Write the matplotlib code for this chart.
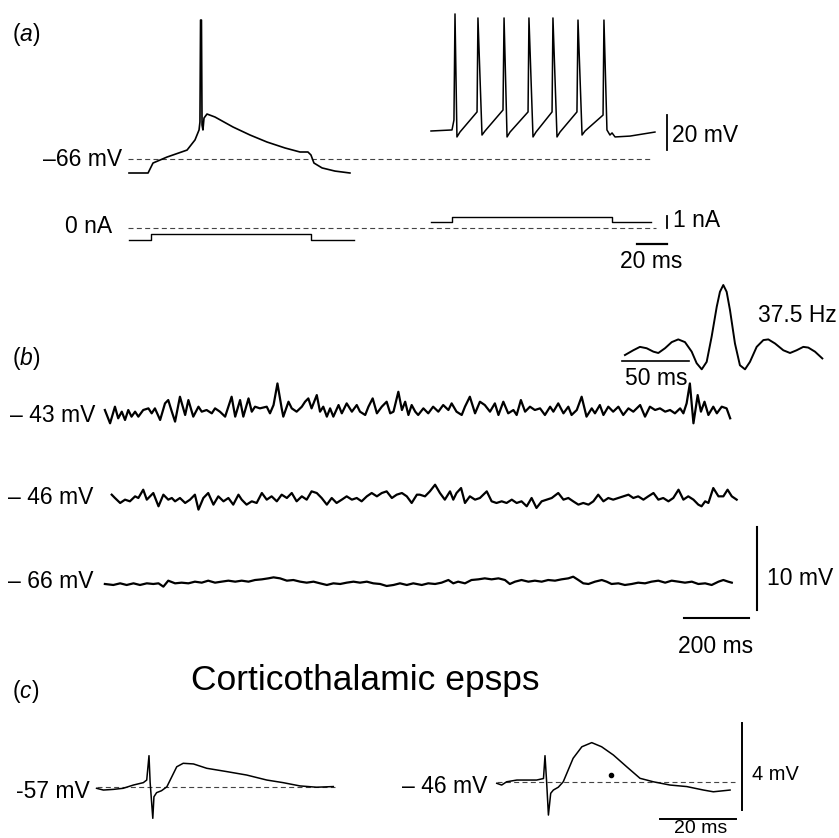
import numpy as np
import matplotlib
matplotlib.use('Agg')
import matplotlib.pyplot as plt

plt.rcParams['font.family'] = ['Liberation Sans', 'DejaVu Sans']
plt.rcParams['mathtext.fontset'] = 'custom'
plt.rcParams['mathtext.rm'] = 'Liberation Sans'
plt.rcParams['mathtext.it'] = 'Liberation Sans:italic'
plt.rcParams['lines.solid_joinstyle'] = 'round'

W, H = 839, 838

# (a) single spike, left sweep (ms, mV)
a_left_t = [0, 12.7, 16, 25.3, 38.7, 44, 46.7, 47.3, 47.7, 48.3, 48.7, 49.3, 50, 52, 57.3,
            69.3, 80.7, 92, 104, 114, 119.3, 121.3, 123.3, 128.7, 137.3, 147.3]
a_left_v = [-74, -74, -68.3, -64.9, -60.9, -55.1, -49.4, -44.9, 13.4, 13.4, -46.6, -49.4, -42.6, -40.3, -42,
            -47.7, -52.3, -56.3, -59.7, -62, -62, -63.7, -68.3, -71.1, -72.9, -74]

# (a) tonic firing, right sweep (ms, mV)
a_right_t = [0, 14, 15.3, 16, 17.3, 19.3, 30.7, 31.3, 34, 36, 48, 48.7, 50.7, 52.7, 64.7, 65.3, 68, 70,
             80.7, 81.3, 84, 86, 97.3, 98, 100.7, 102.7, 114.7, 115.3, 117.3, 119.3, 120.7, 122.7, 132.7, 149.3]
a_right_v = [-50, -49.4, -43.7, 16.9, -53.4, -50.6, -39.1, 14.6, -52.3, -50, -38, 14.6, -53.4, -50.6, -39.1, 14.6, -53.4, -50.6,
             -39.1, 14.6, -53.4, -50.6, -39.1, 13.4, -52.3, -50, -40.9, 13.4, -49.4, -52.3, -51.1, -53.4, -52.9, -50.6]

# (a) injected current (ms, nA)
a_left_it = [0, 14.7, 14.7, 121.3, 121.3, 150]
a_left_i = [-1.0, -1.0, -0.5, -0.5, -1.0, -1.0]
a_right_it = [0, 14, 14, 120.7, 120.7, 146.7]
a_right_i = [0.5, 0.5, 0.9, 0.9, 0.5, 0.5]

# (b) spontaneous activity at three membrane potentials (ms, mV from holding level)
b_levels = [-43, -46, -66]
b1_t = [15, 31, 46, 56, 67, 77, 87, 97, 108, 118, 133, 149, 159, 169, 185, 200, 210, 221, 231, 246,
        262, 272, 287, 303, 313, 328, 344, 354, 369, 385, 405, 416, 431, 441, 457, 467, 477, 492, 513, 523,
        534, 546, 559, 564, 580, 590, 605, 621, 631, 641, 651, 667, 677, 687, 698, 708, 718, 734, 744, 759,
        775, 790, 800, 816, 826, 839, 852, 867, 882, 893, 903, 918, 929, 939, 949, 959, 970,
        979, 995, 1010, 1025, 1041, 1056, 1072, 1082, 1097, 1113, 1123, 1138, 1154, 1169, 1184, 1200, 1215,
        1226, 1241, 1256, 1272, 1282, 1295, 1308, 1323, 1338, 1354, 1369, 1385, 1395, 1410, 1426, 1441,
        1451, 1467, 1482, 1497, 1513, 1523, 1538, 1549, 1564, 1579, 1595, 1610, 1626, 1641, 1662, 1677,
        1692, 1708, 1723, 1739, 1754, 1769, 1785, 1795, 1805, 1815, 1826, 1839, 1849, 1860, 1872, 1887,
        1898, 1913, 1928, 1939]
b1_dv = [0.36, -1.24, 0.76, -0.64, 0.16, -0.84, 0.36, -0.44, 0.16, -0.44, 0.36, 0.56, -0.04, 0.56, -0.84, 1.16, 1.56, 0.16, -1.04, 1.96,
         -0.24, 1.56, -0.44, 0.76, 0.16, 0.36, -0.04, 0.56, 0.16, -0.44, 1.96, -0.44, 1.56, -0.44, 1.76, 0.16, 0.76, 0.56, 0.76, -0.04,
         0.96, 3.56, 0.56, -0.44, 1.36, 0.56, 0.16, 0.76, 1.36, 1.76, 0.56, 2.16, 0.16, 0.76, -0.44, 0.56, -0.44, 0.96, -0.04, 1.16,
         0.16, 0.96, 0.16, -0.24, 0.76, 1.76, -0.04, 0.76, 1.36, -0.04, 0.16, 2.56, 0.36, 1.36, -0.24, 0.96, 0.16,
         -0.24, 0.56, -0.04, 0.76, 0.16, 0.96, 0.36, 1.16, 0.16, -0.24, 0.76, 1.96, -0.04, 1.36, 0.96, 0.16, 1.16,
         -0.24, 1.36, -0.04, 0.36, -0.24, 1.56, 0.16, 0.76, 0.36, 0.56, -0.24, 0.76, 0.16, 1.16, -0.04, 0.76,
         -0.24, 0.36, 1.96, -0.44, 0.56, -0.04, 0.96, -0.24, 0.76, 0.16, 0.76, -0.24, 0.56, 0.16, 0.96, -0.44,
         0.76, 0.36, 0.56, 0.16, 0.36, -0.04, 0.56, -0.04, 1.16, 3.56, -1.24, 2.16, 0.16, 1.36, -0.24, 0.76,
         -0.04, 0.76, 0.56, -0.64]

b2_t = [36, 46, 62, 77, 92, 108, 118, 133, 144, 154, 164, 180, 195, 210, 221, 231, 246, 262, 277, 292,
        303, 318, 333, 349, 364, 380, 395, 410, 426, 436, 451, 467, 482, 498, 513, 528, 544, 559, 575, 590,
        605, 621, 636, 651, 667, 682, 698, 713, 728, 744, 759, 775, 790, 805, 821, 836, 852, 867, 882, 898,
        913, 929, 944, 959, 975,
        984, 1000, 1015, 1031, 1046, 1061, 1077, 1087, 1097, 1111, 1123, 1138, 1154, 1169, 1190, 1205, 1220,
        1236, 1251, 1267, 1282, 1297, 1313, 1328, 1343, 1359, 1374, 1390, 1410, 1426, 1441, 1456, 1472, 1487,
        1503, 1518, 1533, 1549, 1564, 1579, 1595, 1610, 1626, 1641, 1656, 1672, 1687, 1703, 1718, 1733, 1749,
        1764, 1780, 1795, 1810, 1826, 1841, 1851, 1862, 1872, 1887, 1903, 1918, 1931, 1944, 1959]
b2_dv = [0.28, -0.12, -0.72, -0.32, -0.52, 0.08, -0.12, 0.88, -0.32, 0.08, 0.48, -1.12, 0.28, -0.32, -0.12, -0.52, -0.12, -0.72, -0.32, 0.28,
         -1.52, -0.12, 0.48, -0.92, 0.08, -0.52, -0.12, -0.92, 0.28, -0.32, -0.92, -0.52, -0.72, 0.48, -0.32, 0.08, -0.52, 0.28, -0.12, 0.48,
         -0.52, 0.08, -0.32, 0.68, 0.48, -0.12, -0.92, -0.12, -0.72, -0.32, 0.08, -0.32, -0.12, -0.52, 0.08, 0.48, 0.08, 0.48, 0.68, -0.12,
         0.28, 0.48, 0.08, -0.72, 0.28,
         0.28, 0.08, 0.68, 1.48, 0.48, -0.32, 0.68, -0.32, 0.48, 1.08, -0.72, 0.08, -0.32, -0.12, 0.68, -0.52, -0.72,
         -0.52, -0.72, -0.32, -0.72, -0.52, -1.12, -0.12, -1.32, -0.52, -0.32, -0.12, 0.48, -0.32, -0.12, -0.52, -0.92, -0.72,
         -0.92, -0.52, 0.28, -0.52, -0.12, -0.32, -0.12, 0.08, 0.28, -0.12, 0.08, -0.32, 0.08, 0.48, -0.32, -0.12, -0.52,
         -0.12, 0.88, -0.32, 0.08, -0.32, -0.92, -1.12, -0.52, -0.72, 1.08, 0.08, 0.08, 0.88, 0.08, -0.32]

b3_t = [15, 41, 62, 82, 103, 123, 144, 164, 180, 195, 210, 231, 251, 272, 292, 313, 333, 354, 374, 395,
        416, 436, 457, 477, 498, 518, 534, 554, 575, 595, 616, 636, 657, 677, 698, 718, 739, 759, 780, 800,
        821, 841, 862, 882, 903, 923, 944, 964,
        990, 1010, 1031, 1051, 1072, 1087, 1102, 1123, 1143, 1164, 1184, 1205, 1226, 1246, 1261, 1277, 1297,
        1318, 1338, 1359, 1379, 1400, 1420, 1441, 1456, 1472, 1487, 1503, 1523, 1544, 1559, 1574, 1595, 1615,
        1636, 1656, 1677, 1697, 1718, 1739, 1759, 1780, 1800, 1821, 1841, 1862, 1882, 1903, 1918, 1933, 1944]
b3_dv = [-0.24, -0.36, -0.16, -0.36, -0.16, -0.36, -0.16, -0.24, -0.16, -0.56, 0.16, -0.16, -0.08, -0.16, 0.04, -0.08, 0.16, -0.08, 0.04, 0.16,
         0.04, 0.16, 0.04, 0.24, 0.32, 0.44, 0.56, 0.44, 0.16, 0.24, 0.04, -0.08, 0.04, -0.16, -0.36, -0.16, -0.24, -0.08, 0.04, -0.08,
         0.04, -0.16, -0.24, -0.48, -0.36, -0.16, -0.36, -0.16,
         -0.36, -0.16, -0.24, -0.08, 0.24, -0.16, 0.04, -0.16, 0.24, 0.32, 0.44, 0.32, 0.44, 0.24, -0.24, 0.04, 0.24,
         0.04, 0.16, 0.04, 0.24, 0.16, 0.32, 0.44, 0.64, 0.24, -0.16, -0.24, 0.04, 0.24, 0.04, -0.24, -0.16, -0.36,
         -0.24, -0.08, -0.16, 0.04, 0.16, -0.08, 0.16, 0.04, -0.08, 0.04, -0.24, -0.16, -0.36, 0.04, 0.24, 0.04, -0.08]

# (b) inset: autocorrelogram (ms, normalised)
ac_t = [-73.4, -67.2, -62.2, -57.2, -52.2, -48.5, -43.5, -38.5, -33.6, -28.6, -23.6, -19.9, -16.1, -12.4,
        -8.7, -4.9, -2.5, 0, 2.5, 5.0, 8.7, 12.4, 16.2, 19.9, 24.9, 29.9, 33.6, 38.6, 44.8, 49.8,
        54.7, 59.7, 63.4, 68.4, 73.9]
ac_c = [-0.03, 0.04, 0.09, 0.07, 0.02, 0.0, 0.07, 0.16, 0.20, 0.16, 0.02, -0.15, -0.24, -0.13,
        0.24, 0.68, 0.90, 1.0, 0.90, 0.63, 0.14, -0.18, -0.24, -0.13, 0.09, 0.19, 0.20, 0.14, 0.04, 0.0,
        0.04, 0.09, 0.08, 0.02, -0.08]

# (c) corticothalamic epsps (ms from stimulus, mV)
c1_t = [-13.8, -12.0, -9.4, -6.8, -4.1, -1.5, -0.6, 0, 0.3, 1.0, 1.3, 2.0, 3.3, 4.7, 6.0, 7.3, 9.0,
        11.7, 15.2, 20.4, 25.7, 31.0, 35.3, 39.7, 44.1, 48.5]
c1_v = [-57.06, -57.14, -57.11, -57.06, -56.91, -56.8, -56.68, -55.56, -56.79, -58.44, -57.45, -57.26, -57.17,
        -56.99, -56.53, -56.07, -55.91, -55.94, -56.14, -56.29, -56.45, -56.68, -56.8, -56.95, -57.01, -56.98]
c2_t = [-12.7, -11.4, -10.1, -7.4, -4.8, -2.2, -0.4, 0, 0.4, 0.9, 1.5, 2.2, 3.5, 4.8, 6.1, 7.4, 9.7,
        12.3, 14.9, 18.0, 21.5, 25.0, 28.5, 32.9, 37.3, 41.7, 44.3, 48.7]
c2_v = [-46.06, -46.14, -45.99, -45.91, -45.91, -45.91, -45.84, -44.79, -45.91, -47.52, -46.52, -46.37, -46.24,
        -45.99, -45.45, -44.91, -44.38, -44.19, -44.38, -44.76, -45.3, -45.83, -45.99, -46.14, -46.21, -46.37,
        -46.45, -46.37]
c2_dot = (17.4, -45.68)

fig = plt.figure(figsize=(W / 100, H / 100), dpi=100)


def sheet(ox, oy, sx, sy, x0=0.0, y0=0.0):
    # transparent full-figure axes: data (x0, y0) sits at pixel (ox, oy), sx/sy px per unit
    ax = fig.add_axes([0, 0, 1, 1])
    ax.set_xlim(x0 - ox / sx, x0 + (W - ox) / sx)
    ax.set_ylim(y0 - (H - oy) / sy, y0 + oy / sy)
    ax.axis('off')
    ax.patch.set_alpha(0)
    return ax


def label(x, y, s, ha='left', size=16.5):
    fig.text(x / W, 1 - y / H, s, ha=ha, va='baseline', fontsize=size)


k = 'black'
dash = dict(color='#444444', lw=0.8, dashes=(4.5, 3))

# panel a
av1 = sheet(129, 159, 1.5, 1.75, 0, -66)
av2 = sheet(431, 159, 1.5, 1.75, 0, -66)
ai1 = sheet(129, 228, 1.5, 12, 0, 0)
ai2 = sheet(431, 228, 1.5, 12, 0, 0)
av1.plot([-0.7, 349], [-66, -66], **dash)
ai1.plot([-0.7, 351], [0, 0], **dash)
av1.plot(a_left_t, a_left_v, color=k, lw=1.2)
av2.plot(a_right_t, a_right_v, color=k, lw=1.1)
ai1.plot(a_left_it, a_left_i, color=k, lw=1.0)
ai2.plot(a_right_it, a_right_i, color=k, lw=1.0)
av2.plot([157.3, 157.3], [-60.9, -40.9], color=k, lw=1.3)
ai2.plot([157.3, 157.3], [0, 1], color=k, lw=1.3)
ai2.plot([137.3, 157.3], [-1.33, -1.33], color=k, lw=1.6)

label(12, 41, r'($\mathit{a}$)')
label(122, 166, '\u201366 mV', ha='right')
label(112, 233, '0 nA', ha='right')
label(672, 142, '20 mV')
label(673, 227, '1 nA')
label(651, 268, '20 ms', ha='center')

# panel b
rows = [sheet(100, y, 0.325, 8.3, 0, v) for y, v in zip([413, 497, 582], b_levels)]
for ax, t, dv, v in zip(rows, [b1_t, b2_t, b3_t], [b1_dv, b2_dv, b3_dv], b_levels):
    ax.plot(t, np.array(dv) + v, color=k, lw=1.6)
rows[2].plot([2021.5, 2021.5], [-69.4, -59.4], color=k, lw=1.5)
rows[2].plot([1797, 1997], [-70.3, -70.3], color=k, lw=1.5)

ins = sheet(723.3, 353, 1.34, 68, 0, 0)
ins.plot(ac_t, ac_c, color=k, lw=1.4)
ins.plot([-75.6, -25.6], [-0.12, -0.12], color=k, lw=1.2)

label(12, 365, r'($\mathit{b}$)')
label(95, 422, '\u2013 43 mV', ha='right')
label(93, 504, '\u2013 46 mV', ha='right')
label(93, 588, '\u2013 66 mV', ha='right')
label(758, 322, '37.5 Hz')
label(625, 385, '50 ms')
label(767, 585, '10 mV')
label(716, 653, '200 ms', ha='center')

# panel c
c1 = sheet(149, 787, 3.8, 21.75, 0, -57)
c2 = sheet(545, 782, 3.8, 21.75, 0, -46)
c1.plot([-13.7, 48.9], [-57, -57], **dash)
c2.plot([-12.6, 50], [-46, -46], **dash)
c1.plot(c1_t, c1_v, color=k, lw=1.1)
c2.plot(c2_t, c2_v, color=k, lw=1.1)
c2.plot(*c2_dot, 'o', color=k, ms=3)
c2.plot([51.8, 51.8], [-47.3, -43.3], color=k, lw=1.4)
c2.plot([30.3, 50.3], [-47.7, -47.7], color=k, lw=1.4)

label(12, 698, r'($\mathit{c}$)')
label(365, 690, 'Corticothalamic epsps', ha='center', size=25.5)
label(90, 798, '-57 mV', ha='right')
label(487, 793, '\u2013 46 mV', ha='right')
label(752, 780, '4 mV', size=14.4)
label(701, 833, '20 ms', ha='center', size=14)

fig.savefig('out.png', dpi=100)
